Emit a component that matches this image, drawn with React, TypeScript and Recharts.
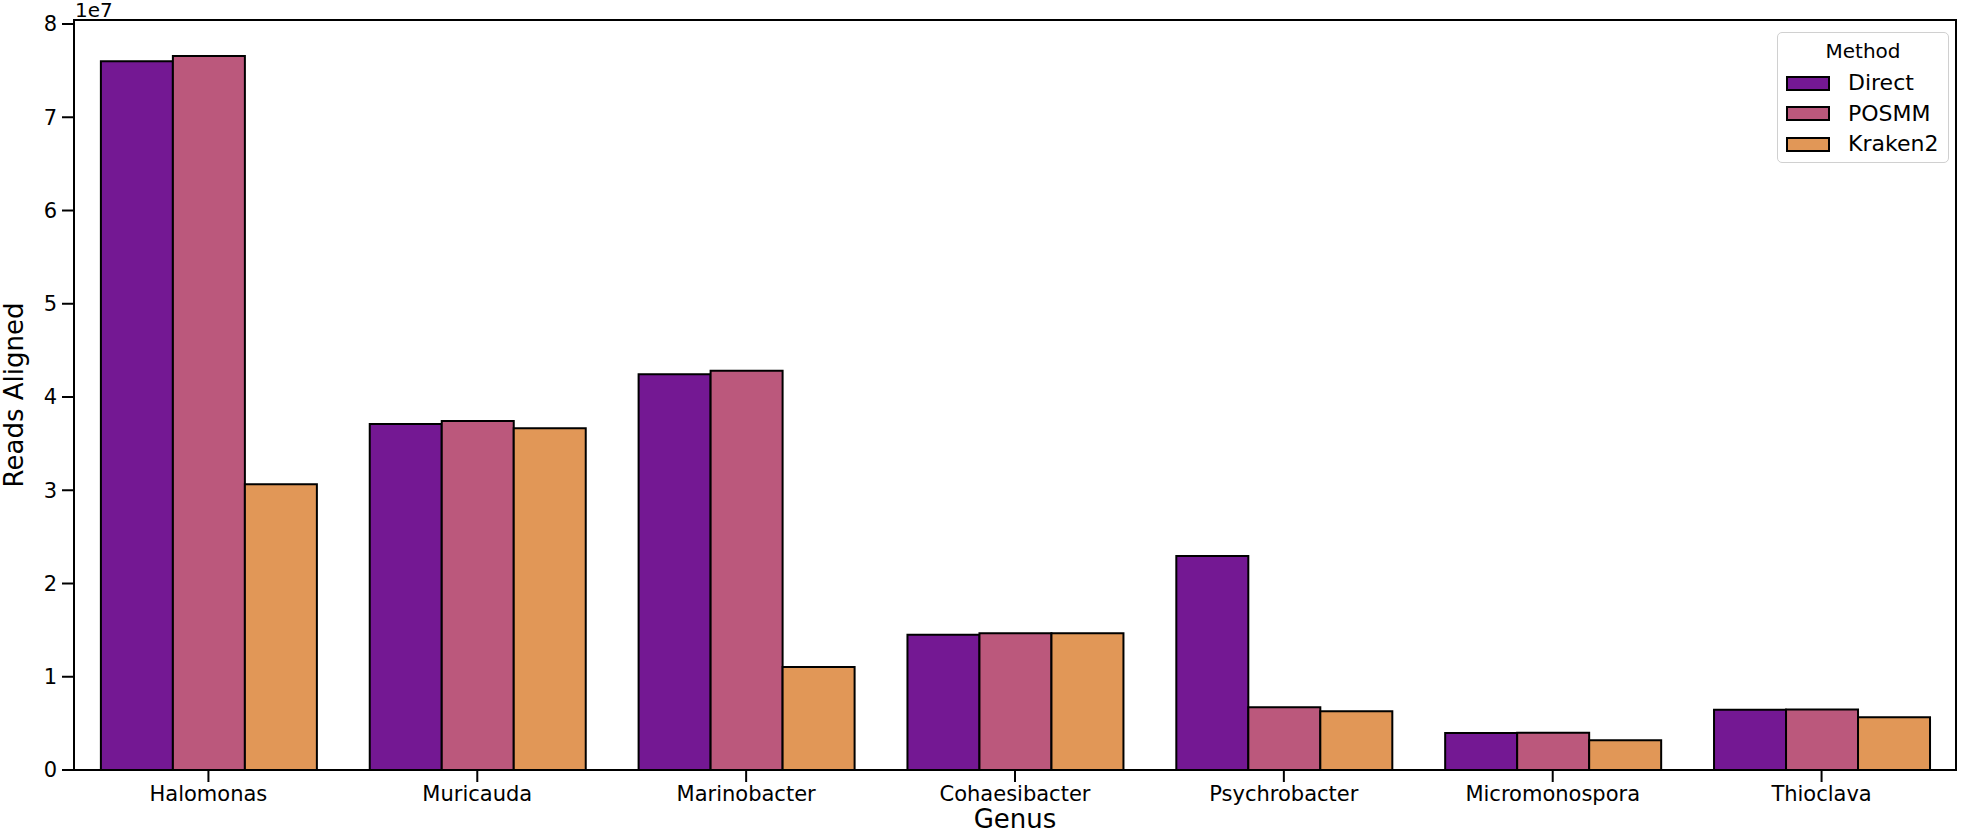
import { BarChart, Bar, XAxis, YAxis, ReferenceArea } from 'recharts';

const genera = ['Halomonas', 'Muricauda', 'Marinobacter', 'Cohaesibacter', 'Psychrobacter', 'Micromonospora', 'Thioclava'];
const direct = [76000000, 37100000, 42430000, 14510000, 22950000, 3970000, 6470000];
const posmm = [76570000, 37430000, 42820000, 14660000, 6720000, 4000000, 6500000];
const kraken2 = [30640000, 36640000, 11050000, 14660000, 6290000, 3180000, 5650000];
const yTicks = [0, 10000000, 20000000, 30000000, 40000000, 50000000, 60000000, 70000000, 80000000];

const methods = [
  { key: 'Direct', color: '#741893' },
  { key: 'POSMM', color: '#bb587c' },
  { key: 'Kraken2', color: '#e19757' },
];

const W = 1962;
const H = 833;
const Y_MAX = 80430000;
const FONT = '"DejaVu Sans", sans-serif';

const data = genera.map((g, i) => ({ genus: g, Direct: direct[i], POSMM: posmm[i], Kraken2: kraken2[i] }));

const spine = { stroke: '#000', strokeWidth: 2 };
const tickStyle = { fill: '#000', fontSize: 21, fontFamily: FONT };

export default function App() {
  return (
    <div style={{ position: 'absolute', left: 0, top: 0, width: W, height: H, background: '#fff', fontFamily: FONT }}>
      <BarChart
        width={W}
        height={H}
        data={data}
        margin={{ top: 20, right: 6, bottom: 0, left: 0 }}
        barCategoryGap="10%"
        barGap={0}
      >
        <XAxis
          dataKey="genus"
          height={63}
          interval={0}
          tickSize={12}
          tickMargin={4}
          axisLine={spine}
          tickLine={spine}
          tick={tickStyle}
          label={{ value: 'Genus', position: 'insideBottom', offset: 5, fill: '#000', fontSize: 26, fontFamily: FONT }}
        />
        <YAxis
          width={74}
          domain={[0, Y_MAX]}
          ticks={yTicks}
          tickFormatter={(v: number) => String(v / 10000000)}
          tickSize={12}
          tickMargin={5}
          axisLine={spine}
          tickLine={spine}
          tick={tickStyle}
          label={{
            value: 'Reads Aligned',
            angle: -90,
            position: 'insideLeft',
            offset: 14,
            fill: '#000',
            fontSize: 26,
            fontFamily: FONT,
            style: { textAnchor: 'middle' },
          }}
        />
        {methods.map((m) => (
          <Bar key={m.key} dataKey={m.key} fill={m.color} stroke="#000" strokeWidth={2} isAnimationActive={false} />
        ))}
        <ReferenceArea y1={0} y2={Y_MAX} fill="none" fillOpacity={0} stroke="#000" strokeWidth={2} ifOverflow="visible" />
      </BarChart>

      <div style={{ position: 'absolute', left: 75, top: 0, fontSize: 20, lineHeight: 1, color: '#000' }}>1e7</div>

      <div
        style={{
          position: 'absolute',
          left: 1777,
          top: 32,
          width: 172,
          height: 131,
          boxSizing: 'border-box',
          border: '1.5px solid #d0d0d0',
          borderRadius: 5,
          background: 'rgba(255,255,255,0.8)',
        }}
      >
        <div style={{ position: 'absolute', left: 0, width: '100%', top: 18, transform: 'translateY(-50%)', textAlign: 'center', fontSize: 20, lineHeight: 1 }}>
          Method
        </div>
        {methods.map((m, i) => (
          <div key={m.key} style={{ position: 'absolute', left: 8, top: 50 + i * 30.5, transform: 'translateY(-50%)', display: 'flex', alignItems: 'center' }}>
            <div style={{ width: 44, height: 15, boxSizing: 'border-box', border: '2px solid #000', background: m.color }} />
            <span style={{ marginLeft: 18, fontSize: 22, lineHeight: 1 }}>{m.key}</span>
          </div>
        ))}
      </div>
    </div>
  );
}
